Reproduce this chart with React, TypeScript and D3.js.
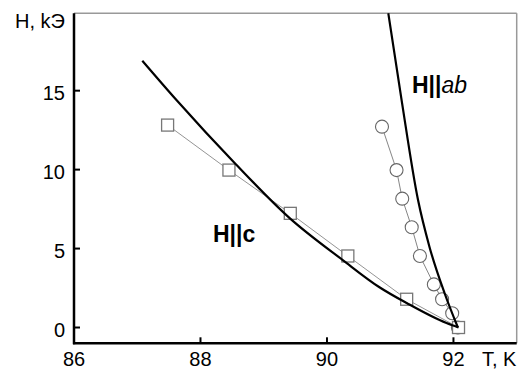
import React from "react";
import * as d3 from "d3";

// Data
const squareT = [87.48, 88.45, 89.42, 90.33, 91.26, 92.08];
const squareH = [12.82, 9.97, 7.23, 4.53, 1.79, 0.0];
const circleT = [90.87, 91.1, 91.19, 91.34, 91.47, 91.69, 91.82, 91.98, 92.07];
const circleH = [12.72, 9.97, 8.16, 6.35, 4.53, 2.73, 1.79, 0.9, 0.0];
const curveCT = [87.08, 87.62, 88.54, 89.41, 90.25, 90.83, 91.26, 91.89, 92.08];
const curveCH = [16.9, 14.41, 10.42, 6.93, 4.27, 2.55, 1.55, 0.28, 0.0];
const curveAbT = [90.97, 91.18, 91.44, 91.62, 91.86, 92.07];
const curveAbH = [19.9, 14.4, 8.07, 5.12, 2.17, 0.0];
const xTicks = [86, 88, 90, 92];
const yTicks = [0, 5, 10, 15];

const W = 531;
const H = 372;
const FONT = "'Liberation Sans', Arial, sans-serif";

export default function App() {
  const x = d3.scaleLinear().domain([86, 93]).range([74, 516.7]);
  const y = d3.scaleLinear().domain([-1, 19.9]).range([343.3, 13.3]);

  const zip = (a: number[], b: number[]) => a.map((v, i) => [v, b[i]] as [number, number]);
  const sq = zip(squareT, squareH);
  const ci = zip(circleT, circleH);
  const cC = zip(curveCT, curveCH);
  const cAb = zip(curveAbT, curveAbH);

  const straight = d3
    .line<[number, number]>()
    .x((d) => x(d[0]))
    .y((d) => y(d[1]));
  const smooth = d3
    .line<[number, number]>()
    .x((d) => x(d[0]))
    .y((d) => y(d[1]))
    .curve(d3.curveMonotoneX);

  const x0 = x(86);
  const x1 = x(93);
  const yTop = y(19.9);
  const yBot = y(-1);

  return (
    <svg
      width={W}
      height={H}
      style={{ position: "absolute", left: 0, top: 0, background: "#fff" }}
      fontFamily={FONT}
    >
      <rect x={0} y={0} width={W} height={H} fill="#fff" />
      {/* frame: top & right gray */}
      <line x1={x0} x2={x1} y1={yTop} y2={yTop} stroke="#999" strokeWidth={1.5} />
      <line x1={x1} x2={x1} y1={yTop} y2={yBot} stroke="#999" strokeWidth={1.5} />

      {/* connecting lines */}
      <path d={straight(sq) || ""} fill="none" stroke="#888" strokeWidth={0.9} />
      <path d={straight(ci) || ""} fill="none" stroke="#777" strokeWidth={0.9} />

      {/* markers */}
      {ci.map((d, i) => (
        <circle key={"c" + i} cx={x(d[0])} cy={y(d[1])} r={6.5} fill="#fff" stroke="#666" strokeWidth={1.1} />
      ))}
      {sq.map((d, i) => (
        <rect key={"s" + i} x={x(d[0]) - 6} y={y(d[1]) - 6} width={12} height={12} fill="#fff" stroke="#777" strokeWidth={1.3} />
      ))}

      {/* black curves */}
      <path d={smooth(cC) || ""} fill="none" stroke="#000" strokeWidth={2.2} />
      <path d={smooth(cAb) || ""} fill="none" stroke="#000" strokeWidth={2.2} />

      {/* axes */}
      <line x1={x0} x2={x0} y1={yTop} y2={yBot + 1} stroke="#000" strokeWidth={2.5} />
      <line x1={x0 - 1} x2={x1} y1={yBot} y2={yBot} stroke="#000" strokeWidth={2.5} />
      {xTicks.map((t) => (
        <g key={"xt" + t}>
          <line x1={x(t)} x2={x(t)} y1={yBot} y2={yBot - 6} stroke="#000" strokeWidth={2} />
          <text x={x(t)} y={366} textAnchor="middle" fontSize={20} fill="#000">
            {t}
          </text>
        </g>
      ))}
      {yTicks.map((t) => (
        <g key={"yt" + t}>
          <line x1={x0} x2={x0 + 6} y1={y(t)} y2={y(t)} stroke="#000" strokeWidth={2} />
          <text x={65} y={y(t) + 9} textAnchor="end" fontSize={20} fill="#000">
            {t}
          </text>
        </g>
      ))}

      {/* axis titles */}
      <text x={65} y={28} textAnchor="end" fontSize={20} fill="#000">
        H, kЭ
      </text>
      <text x={482} y={366} textAnchor="start" fontSize={20} fill="#000">
        T, K
      </text>

      {/* annotations */}
      <text x={213} y={242} fontSize={23} fontWeight="bold" fill="#000">
        H||c
      </text>
      <text x={412} y={93} fontSize={23} fill="#000">
        <tspan fontWeight="bold">H||</tspan>
        <tspan fontStyle="italic">ab</tspan>
      </text>
    </svg>
  );
}
